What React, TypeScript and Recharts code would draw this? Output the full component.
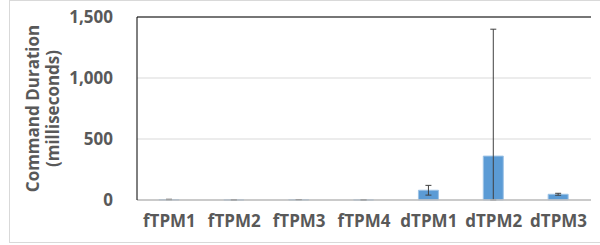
import React from 'react';
import {
  BarChart,
  Bar,
  XAxis,
  YAxis,
  CartesianGrid,
  ErrorBar,
  ReferenceLine,
} from 'recharts';

const categories = ['fTPM1', 'fTPM2', 'fTPM3', 'fTPM4', 'dTPM1', 'dTPM2', 'dTPM3'];
const durations = [4, 1, 3, 1, 80, 360, 47];
// lower / upper error (lower is clipped at zero in the picture)
const errLow = [2, 0, 1, 0, 40, 360, 8];
const errHigh = [2, 0, 1, 0, 40, 1040, 8];
const yTicks = [0, 500, 1000, 1500];

const FONT = '"Open Sans", sans-serif';
const GREY = '#595959';

const data = categories.map((name, i) => ({
  name,
  value: durations[i],
  err: [errLow[i], errHigh[i]],
}));

const renderYLabel = ({ viewBox }: any) => {
  const cy = viewBox.y + viewBox.height / 2;
  return (
    <g transform={`translate(0, ${cy}) rotate(-90)`}>
      <text x={0} y={39} textAnchor="middle" fill={GREY} fontSize={17} fontWeight="bold" fontFamily={FONT}>
        Command Duration
      </text>
      <text x={0} y={59} textAnchor="middle" fill={GREY} fontSize={17} fontWeight="bold" fontFamily={FONT}>
        (milliseconds)
      </text>
    </g>
  );
};

const App: React.FC = () => {
  return (
    <div style={{ position: 'absolute', left: 0, top: 0, width: 600, height: 245, background: '#fff' }}>
      <div
        style={{
          position: 'absolute',
          left: 9,
          top: 0,
          width: 590,
          height: 241,
          border: '1px solid #d9d9d9',
          borderRight: 'none',
        }}
      />
      <BarChart
        width={600}
        height={245}
        data={data}
        margin={{ top: 17, right: 9, bottom: 15, left: 0 }}
        style={{ position: 'absolute', left: 0, top: 0 }}
      >
        <CartesianGrid vertical={false} stroke="#d9d9d9" yAxisId="left" />
        <XAxis
          dataKey="name"
          height={30}
          tickLine={false}
          axisLine={{ stroke: '#bfbfbf', strokeWidth: 1.5 }}
          tick={{ fill: GREY, fontSize: 17, fontWeight: 'bold', fontFamily: FONT }}
          tickMargin={9}
          interval={0}
        />
        <YAxis
          yAxisId="left"
          width={137}
          domain={[0, 1500]}
          ticks={yTicks}
          tickFormatter={(v: number) => v.toLocaleString('en-US')}
          tickLine={false}
          axisLine={{ stroke: '#000' }}
          tick={{ fill: GREY, fontSize: 17, fontWeight: 'bold', fontFamily: FONT }}
          tickMargin={18}
          label={renderYLabel}
        />
        <YAxis
          yAxisId="right"
          orientation="right"
          width={0}
          domain={[0, 1500]}
          tick={false}
          tickLine={false}
          axisLine={{ stroke: '#000' }}
        />
        <ReferenceLine yAxisId="left" y={1500} stroke="#000" />
        <Bar
          yAxisId="left"
          dataKey="value"
          fill="#5b9bd5"
          stroke="#9dc3e6"
          strokeWidth={1}
          barSize={20}
          isAnimationActive={false}
        >
          <ErrorBar dataKey="err" width={3} stroke="#404040" strokeWidth={1} direction="y" />
        </Bar>
      </BarChart>
    </div>
  );
};

export default App;
